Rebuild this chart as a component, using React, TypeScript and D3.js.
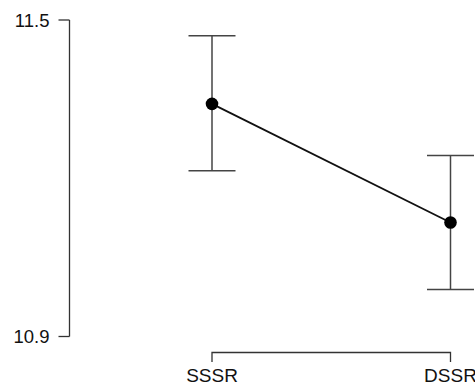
import { useEffect, useRef } from "react";
import * as d3 from "d3";

const categories = ["SSSR", "DSSR"];
const means = [11.341, 11.116];
const upper = [11.47, 11.243];
const lower = [11.214, 10.989];
const yTicks = [10.9, 11.5];

export default function App() {
  const svgRef = useRef<SVGSVGElement>(null);

  useEffect(() => {
    const svg = d3.select(svgRef.current);
    svg.selectAll("*").remove();

    const font = "'Liberation Sans', Arial, sans-serif";
    const x = d3.scalePoint<string>().domain(categories).range([212, 450.5]);
    const y = d3.scaleLinear().domain([10.9, 11.5]).range([336.5, 20]);

    // y axis
    const yAxis = svg.append("g").attr("transform", "translate(69.5,0)");
    yAxis.append("line")
      .attr("y1", y(11.5)).attr("y2", y(10.9))
      .attr("stroke", "#333").attr("stroke-width", 1.3);
    yTicks.forEach(t => {
      yAxis.append("line")
        .attr("x1", -11).attr("x2", 0)
        .attr("y1", y(t)).attr("y2", y(t))
        .attr("stroke", "#333").attr("stroke-width", 1.3);
      yAxis.append("text")
        .attr("x", -20).attr("y", y(t))
        .attr("dy", "0.36em")
        .attr("text-anchor", "end")
        .attr("font-family", font).attr("font-size", 18.5)
        .attr("fill", "#111")
        .text(t.toFixed(1));
    });

    // x axis (bracket)
    const axisY = 352.5;
    const xAxis = svg.append("g");
    xAxis.append("path")
      .attr("d", `M${x("SSSR")},${axisY + 9.5}V${axisY}H${x("DSSR")}V${axisY + 9.5}`)
      .attr("fill", "none").attr("stroke", "#333").attr("stroke-width", 1.3);
    categories.forEach(c => {
      xAxis.append("text")
        .attr("x", x(c)!).attr("y", 381.7)
        .attr("text-anchor", "middle")
        .attr("font-family", font).attr("font-size", 19)
        .attr("fill", "#111")
        .text(c);
    });

    // error bars
    const capW = 23.5;
    categories.forEach((c, i) => {
      const cx = x(c)!;
      const g = svg.append("g").attr("stroke", "#444").attr("stroke-width", 1.5);
      g.append("line").attr("x1", cx).attr("x2", cx).attr("y1", y(upper[i])).attr("y2", y(lower[i]));
      g.append("line").attr("x1", cx - capW).attr("x2", cx + capW).attr("y1", y(upper[i])).attr("y2", y(upper[i]));
      g.append("line").attr("x1", cx - capW).attr("x2", cx + capW).attr("y1", y(lower[i])).attr("y2", y(lower[i]));
    });

    // connecting line
    const line = d3.line<number>()
      .x((_, i) => x(categories[i])!)
      .y(d => y(d));
    svg.append("path")
      .attr("d", line(means))
      .attr("fill", "none").attr("stroke", "#111").attr("stroke-width", 1.8);

    // points
    svg.selectAll("circle.pt")
      .data(means)
      .join("circle")
      .attr("class", "pt")
      .attr("cx", (_, i) => x(categories[i])!)
      .attr("cy", d => y(d))
      .attr("r", 6.3)
      .attr("fill", "#000");
  }, []);

  return (
    <svg
      ref={svgRef}
      width={475}
      height={388}
      style={{ position: "fixed", left: 0, top: 0, background: "#fff" }}
    />
  );
}
